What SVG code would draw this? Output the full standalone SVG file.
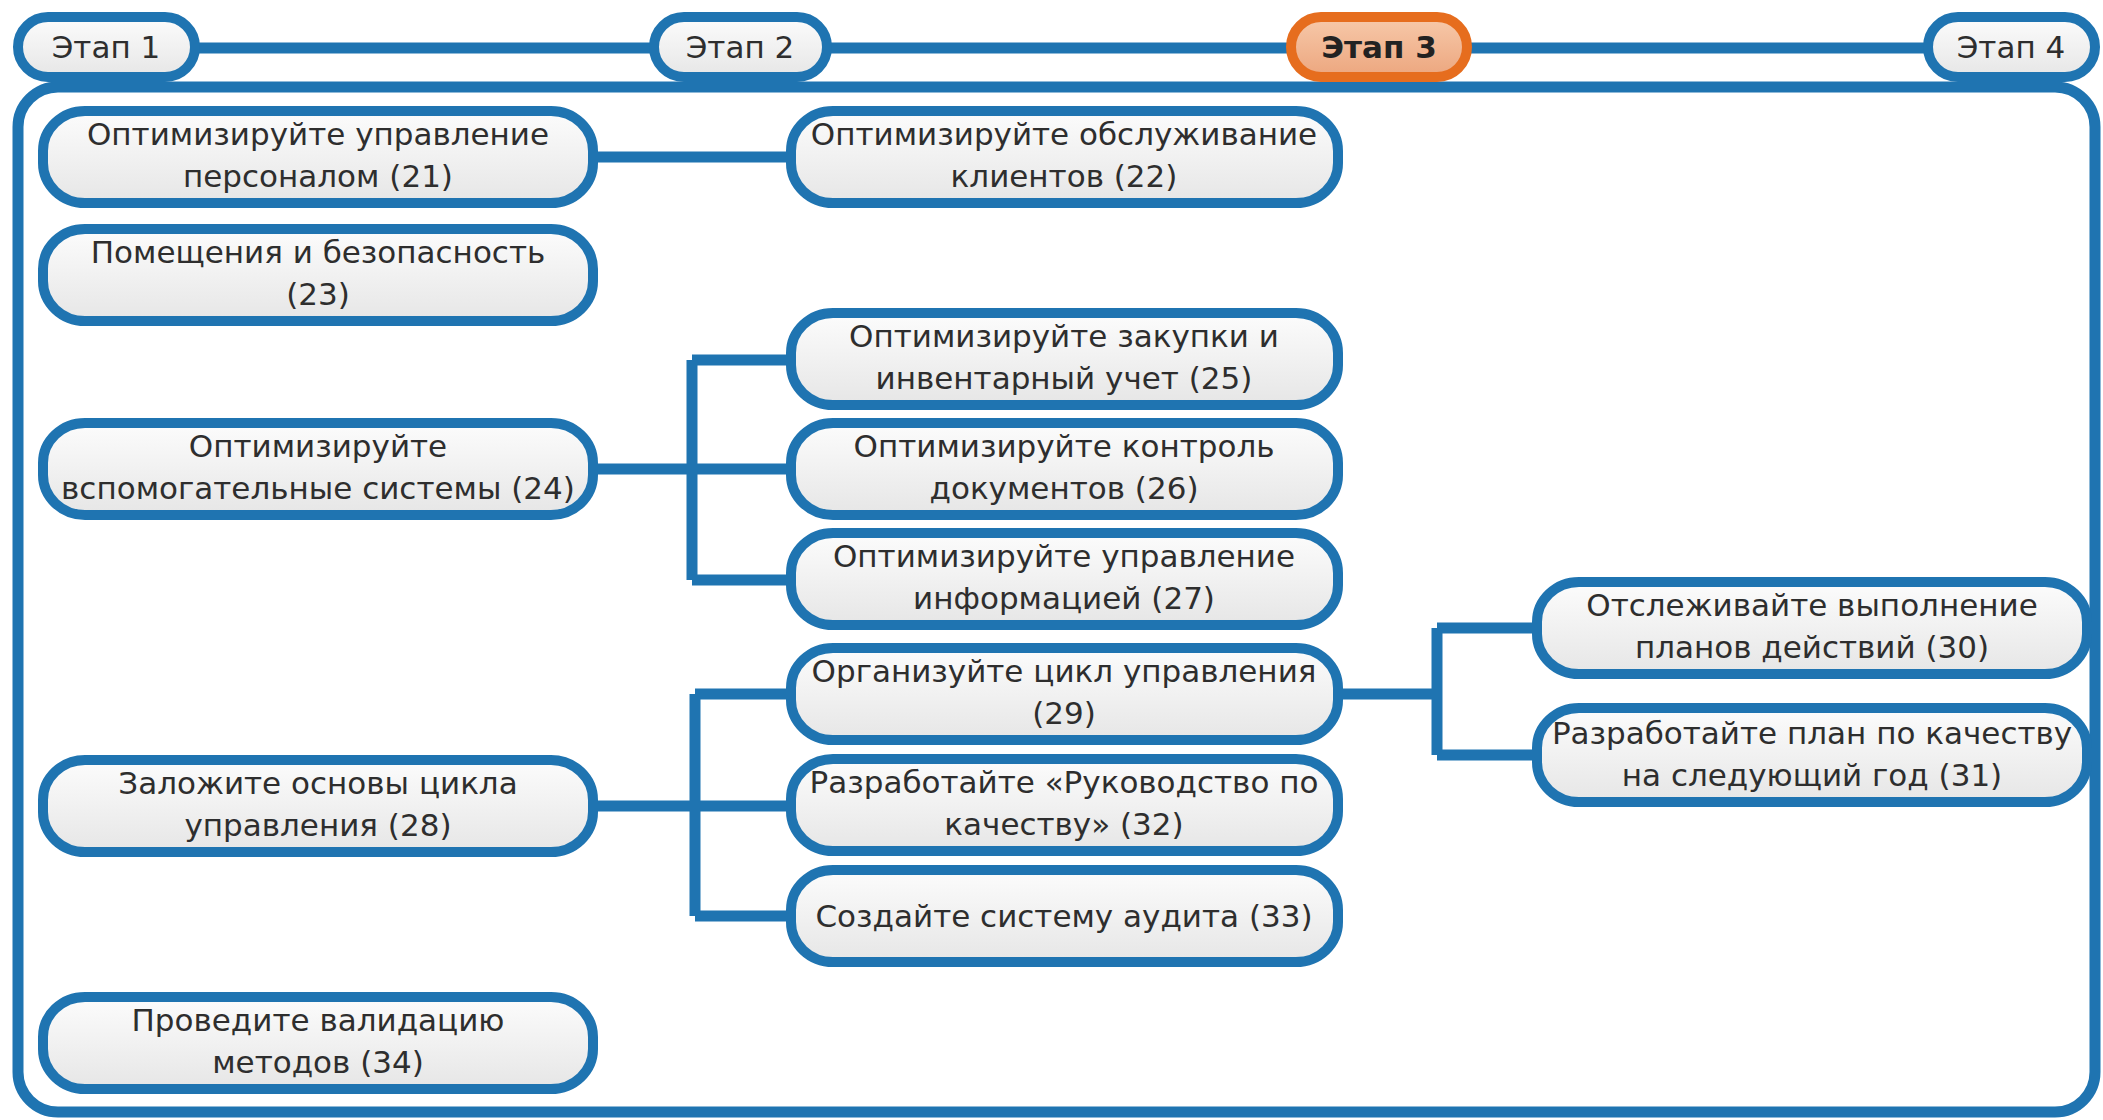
<svg xmlns="http://www.w3.org/2000/svg" width="2103" height="1120" viewBox="0 0 2103 1120">
  <defs>
    <linearGradient id="gNode" x1="0" y1="0" x2="0" y2="1">
      <stop offset="0" stop-color="#fcfcfc"/>
      <stop offset="1" stop-color="#e6e6e6"/>
    </linearGradient>
    <linearGradient id="gOrange" x1="0" y1="0" x2="0" y2="1">
      <stop offset="0" stop-color="#f7c9aa"/>
      <stop offset="1" stop-color="#eca67e"/>
    </linearGradient>
  </defs>
  <style>
    .node { fill: url(#gNode); stroke: #1f74b1; stroke-width: 10; }
    .stage { fill: url(#gNode); stroke: #1f74b1; stroke-width: 10; }
    .stage-active { fill: url(#gOrange); stroke: #e66d1e; stroke-width: 10; }
    .frame { fill: none; stroke: #1f74b1; stroke-width: 11; }
    .conn { fill: none; stroke: #1f74b1; stroke-width: 11; stroke-linejoin: miter; }
    text { font-family: "DejaVu Sans", "Liberation Sans", sans-serif; font-size: 31px; fill: #2e2e2e; text-anchor: middle; }
    .bold { font-weight: bold; fill: #222; }
  </style>
  <rect width="2103" height="1120" fill="#ffffff"/>

  <!-- frame and stage line -->
  <g id="frame">
    <rect class="frame" x="18" y="87" width="2077" height="1025" rx="40" ry="40"/>
  </g>
  <g id="connectors">
    <path class="conn" d="M195 48 H1930"/>
    <path class="conn" d="M598 157 H786"/>
    <path class="conn" d="M598 469 H786 M692 360 V580 M692 360 H786 M692 580 H786"/>
    <path class="conn" d="M598 806 H786 M695 694 V916 M695 694 H786 M695 916 H786"/>
    <path class="conn" d="M1343 694 H1437 M1437 628 V755 M1437 628 H1532 M1437 755 H1532"/>
  </g>

  <!-- stages -->
  <g id="stage1">
    <rect class="stage" x="18" y="17" width="177" height="60" rx="30"/>
    <text x="106" y="58">Этап 1</text>
  </g>
  <g id="stage2">
    <rect class="stage" x="654" y="17" width="173" height="60" rx="30"/>
    <text x="740" y="58">Этап 2</text>
  </g>
  <g id="stage3">
    <rect class="stage-active" x="1291" y="17" width="176" height="60" rx="30"/>
    <text class="bold" x="1379" y="58">Этап 3</text>
  </g>
  <g id="stage4">
    <rect class="stage" x="1928" y="17" width="167" height="60" rx="30"/>
    <text x="2011" y="58">Этап 4</text>
  </g>

  <!-- left column -->
  <g id="n21">
    <rect class="node" x="43" y="111" width="550" height="92" rx="42" ry="40"/>
    <text x="318" y="145">Оптимизируйте управление</text>
    <text x="318" y="187">персоналом (21)</text>
  </g>
  <g id="n23">
    <rect class="node" x="43" y="229" width="550" height="92" rx="42" ry="40"/>
    <text x="318" y="263">Помещения и безопасность</text>
    <text x="318" y="305">(23)</text>
  </g>
  <g id="n24">
    <rect class="node" x="43" y="423" width="550" height="92" rx="42" ry="40"/>
    <text x="318" y="457">Оптимизируйте</text>
    <text x="318" y="499">вспомогательные системы (24)</text>
  </g>
  <g id="n28">
    <rect class="node" x="43" y="760" width="550" height="92" rx="42" ry="40"/>
    <text x="318" y="794">Заложите основы цикла</text>
    <text x="318" y="836">управления (28)</text>
  </g>
  <g id="n34">
    <rect class="node" x="43" y="997" width="550" height="92" rx="42" ry="40"/>
    <text x="318" y="1031">Проведите валидацию</text>
    <text x="318" y="1073">методов (34)</text>
  </g>

  <!-- middle column -->
  <g id="n22">
    <rect class="node" x="791" y="111" width="547" height="92" rx="42" ry="40"/>
    <text x="1064" y="145">Оптимизируйте обслуживание</text>
    <text x="1064" y="187">клиентов (22)</text>
  </g>
  <g id="n25">
    <rect class="node" x="791" y="313" width="547" height="92" rx="42" ry="40"/>
    <text x="1064" y="347">Оптимизируйте закупки и</text>
    <text x="1064" y="389">инвентарный учет (25)</text>
  </g>
  <g id="n26">
    <rect class="node" x="791" y="423" width="547" height="92" rx="42" ry="40"/>
    <text x="1064" y="457">Оптимизируйте контроль</text>
    <text x="1064" y="499">документов (26)</text>
  </g>
  <g id="n27">
    <rect class="node" x="791" y="533" width="547" height="92" rx="42" ry="40"/>
    <text x="1064" y="567">Оптимизируйте управление</text>
    <text x="1064" y="609">информацией (27)</text>
  </g>
  <g id="n29">
    <rect class="node" x="791" y="648" width="547" height="92" rx="42" ry="40"/>
    <text x="1064" y="682">Организуйте цикл управления</text>
    <text x="1064" y="724">(29)</text>
  </g>
  <g id="n32">
    <rect class="node" x="791" y="759" width="547" height="92" rx="42" ry="40"/>
    <text x="1064" y="793">Разработайте «Руководство по</text>
    <text x="1064" y="835">качеству» (32)</text>
  </g>
  <g id="n33">
    <rect class="node" x="791" y="870" width="547" height="92" rx="42" ry="40"/>
    <text x="1064" y="927">Создайте систему аудита (33)</text>
  </g>

  <!-- right column -->
  <g id="n30">
    <rect class="node" x="1537" y="582" width="550" height="92" rx="42" ry="40"/>
    <text x="1812" y="616">Отслеживайте выполнение</text>
    <text x="1812" y="658">планов действий (30)</text>
  </g>
  <g id="n31">
    <rect class="node" x="1537" y="708" width="550" height="94" rx="42" ry="40"/>
    <text x="1812" y="744">Разработайте план по качеству</text>
    <text x="1812" y="786">на следующий год (31)</text>
  </g>
</svg>
